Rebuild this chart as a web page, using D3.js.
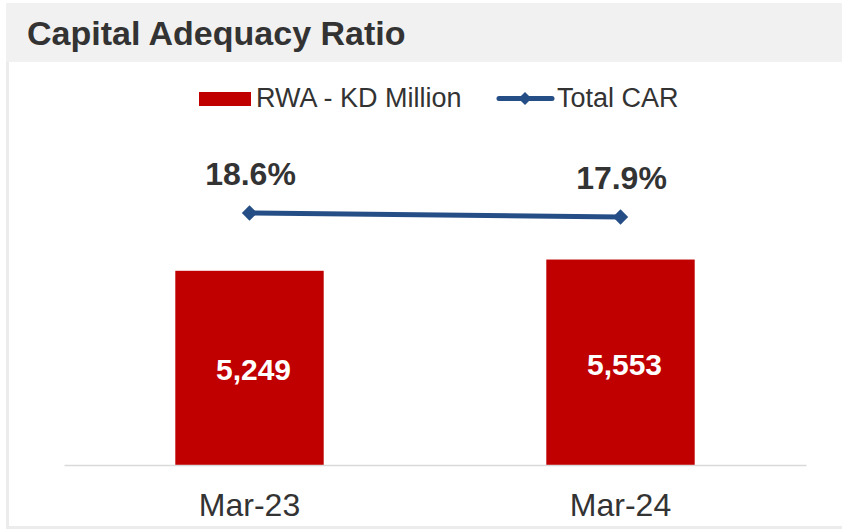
<!DOCTYPE html>
<html>
<head>
<meta charset="utf-8">
<script src="https://cdn.jsdelivr.net/npm/d3@7"></script>
<style>
  body { margin: 0; background: #fff; }
  svg text { font-family: "Liberation Sans", Arial, sans-serif; }
</style>
</head>
<body>
<div id="chart"></div>
<script>
var title = "Capital Adequacy Ratio";
var periods = ["Mar-23", "Mar-24"];
var rwa = [5249, 5553];          // RWA - KD Million
var car = [18.6, 17.9];          // Total CAR %
var seriesNames = ["RWA - KD Million", "Total CAR"];

var width = 842, height = 530;

var svg = d3.select("#chart").append("svg")
    .attr("width", width)
    .attr("height", height);

// header band
svg.append("rect")
    .attr("x", 6).attr("y", 3)
    .attr("width", width - 6).attr("height", 59)
    .attr("fill", "#f1f1f1");

svg.append("text")
    .attr("x", 27).attr("y", 45)
    .attr("font-size", "34px")
    .attr("font-weight", "bold")
    .attr("fill", "#333")
    .text(title);

// panel border
svg.append("path")
    .attr("d", "M7.5,62V527.5H" + width)
    .attr("fill", "none")
    .attr("stroke", "#ececec")
    .attr("stroke-width", 3);

var x = d3.scaleBand()
    .domain(periods)
    .range([64, 806])
    .paddingInner(0.6)
    .paddingOuter(0.3);

var y = d3.scaleLinear().domain([0, 10000]).range([465, 95]);
var y2 = d3.scaleLinear().domain([-25.5, 39.25]).range([465, 95]);

// bars
svg.selectAll(".bar")
    .data(periods)
    .enter().append("rect")
    .attr("class", "bar")
    .attr("x", function (d) { return x(d); })
    .attr("y", function (d, i) { return y(rwa[i]); })
    .attr("width", x.bandwidth())
    .attr("height", function (d, i) { return y(0) - y(rwa[i]); })
    .attr("fill", "#c00000");

svg.selectAll(".barLabel")
    .data(periods)
    .enter().append("text")
    .attr("class", "barLabel")
    .attr("x", function (d) { return x(d) + x.bandwidth() / 2 + 4; })
    .attr("y", function (d, i) { return (y(rwa[i]) + y(0)) / 2; })
    .attr("dy", "0.42em")
    .attr("text-anchor", "middle")
    .attr("font-size", "30px")
    .attr("font-weight", "bold")
    .attr("fill", "#fff")
    .text(function (d, i) { return d3.format(",")(rwa[i]); });

// x axis
var xAxis = svg.append("g")
    .attr("transform", "translate(0,465)")
    .call(d3.axisBottom(x).tickSize(0).tickPadding(28));
xAxis.select(".domain").attr("stroke", "#d9d9d9").attr("stroke-width", 1.5);
xAxis.selectAll("text")
    .attr("font-size", "32px")
    .attr("fill", "#333")
    .style("font-family", "'Liberation Sans', Arial, sans-serif");

// CAR line
var line = d3.line()
    .x(function (d, i) { return x(periods[i]) + x.bandwidth() / 2; })
    .y(function (d) { return y2(d); });

svg.append("path")
    .datum(car)
    .attr("d", line)
    .attr("fill", "none")
    .attr("stroke", "#264e86")
    .attr("stroke-width", 5);

var diamond = d3.symbol().type(d3.symbolDiamond2).size(150);

svg.selectAll(".marker")
    .data(car)
    .enter().append("path")
    .attr("class", "marker")
    .attr("d", diamond)
    .attr("transform", function (d, i) {
        return "translate(" + (x(periods[i]) + x.bandwidth() / 2) + "," + y2(d) + ")";
    })
    .attr("fill", "#264e86");

svg.selectAll(".carLabel")
    .data(car)
    .enter().append("text")
    .attr("class", "carLabel")
    .attr("x", function (d, i) { return x(periods[i]) + x.bandwidth() / 2 + 1; })
    .attr("y", function (d) { return y2(d) - 28; })
    .attr("text-anchor", "middle")
    .attr("font-size", "32px")
    .attr("font-weight", "bold")
    .attr("fill", "#333")
    .text(function (d) { return d.toFixed(1) + "%"; });

// legend
var legend = svg.append("g");
legend.append("rect")
    .attr("x", 199).attr("y", 92)
    .attr("width", 52).attr("height", 14)
    .attr("fill", "#c00000");
legend.append("text")
    .attr("x", 256).attr("y", 107)
    .attr("font-size", "27px")
    .attr("fill", "#333")
    .text(seriesNames[0]);
legend.append("line")
    .attr("x1", 499).attr("x2", 552)
    .attr("y1", 98.5).attr("y2", 98.5)
    .attr("stroke", "#264e86")
    .attr("stroke-width", 5)
    .attr("stroke-linecap", "round");
legend.append("path")
    .attr("d", d3.symbol().type(d3.symbolDiamond2).size(110))
    .attr("transform", "translate(525,98.5)")
    .attr("fill", "#264e86");
legend.append("text")
    .attr("x", 557).attr("y", 107)
    .attr("font-size", "27px")
    .attr("fill", "#333")
    .text(seriesNames[1]);
</script>
</body>
</html>
